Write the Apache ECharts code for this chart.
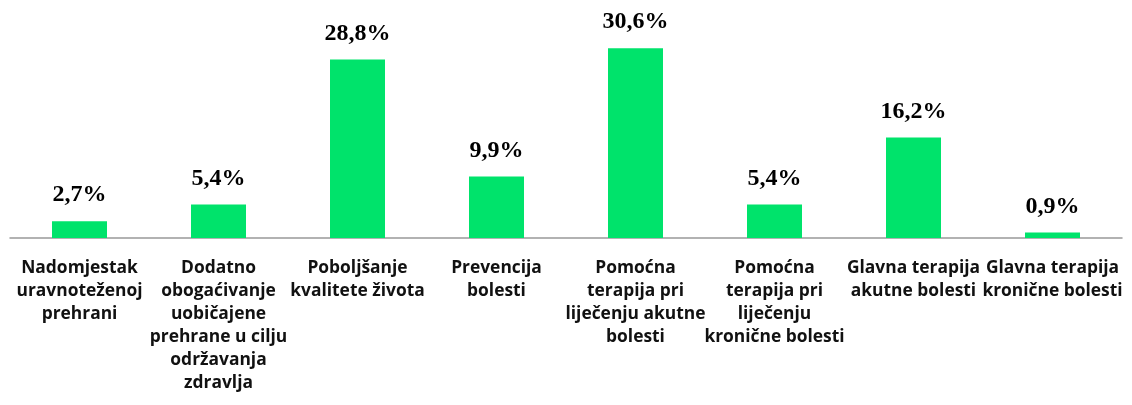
<!DOCTYPE html>
<html>
<head>
<meta charset="utf-8">
<script src="https://cdn.jsdelivr.net/npm/echarts@6/dist/echarts.min.js"></script>
<style>
  body { margin: 0; background: #fff; }
  #chart { width: 1132px; height: 405px; }
</style>
</head>
<body>
<div id="chart"></div>
<script>
  // kategorije (s prijelomima redaka kao na slici)
  var categories = [
    'Nadomjestak\nuravnoteženoj\nprehrani',
    'Dodatno\nobogaćivanje\nuobičajene\nprehrane u cilju\nodržavanja\nzdravlja',
    'Poboljšanje\nkvalitete života',
    'Prevencija\nbolesti',
    'Pomoćna\nterapija pri\nliječenju akutne\nbolesti',
    'Pomoćna\nterapija pri\nliječenju\nkronične bolesti',
    'Glavna terapija\nakutne bolesti',
    'Glavna terapija\nkronične bolesti'
  ]
  var values = [2.7, 5.4, 28.8, 9.9, 30.6, 5.4, 16.2, 0.9]

  var chart = echarts.init(document.getElementById('chart'))
  chart.setOption({
    animation: false,
    grid: {
      left: 10,
      right: 10,
      top: 21,
      bottom: 167
    },
    xAxis: {
      type: 'category',
      data: categories,
      axisLine: { lineStyle: { color: '#999', width: 1.5 } },
      axisTick: { show: false },
      axisLabel: {
        interval: 0,
        margin: 19,
        color: '#111',
        fontFamily: 'Open Sans',
        fontWeight: 'bold',
        fontSize: 17.4,
        lineHeight: 23,
        align: 'center'
      }
    },
    yAxis: {
      type: 'value',
      min: 0,
      max: 35,
      show: false,
      splitLine: { show: false }
    },
    series: [
      {
        type: 'bar',
        data: values,
        barWidth: 55,
        itemStyle: { color: '#00E36B' },
        label: {
          show: true,
          position: 'top',
          distance: 14,
          color: '#000',
          fontFamily: 'Liberation Serif',
          fontWeight: 'bold',
          fontSize: 24,
          formatter: function (p) {
            return p.value.toFixed(1).replace('.', ',') + '%'
          }
        }
      }
    ]
  })
</script>
</body>
</html>
